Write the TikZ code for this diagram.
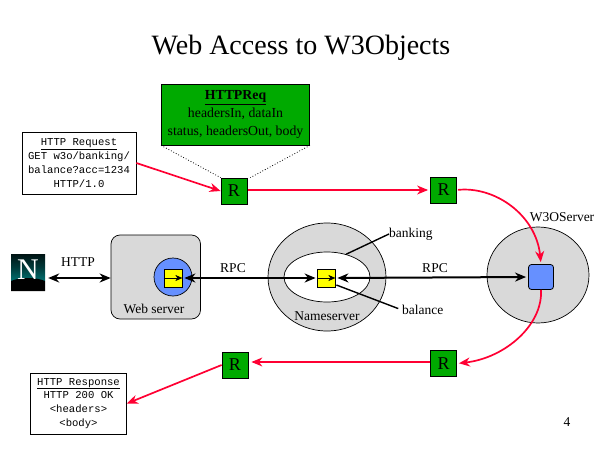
\documentclass[tikz,border=0pt]{standalone}
\usepackage{fontspec}
\setmainfont{Liberation Serif}
\setmonofont{Liberation Mono}
\usetikzlibrary{arrows.meta,calc,shapes.geometric}
\definecolor{rgreen}{HTML}{00AA00}
\definecolor{rred}{HTML}{FF0033}
\definecolor{rgrey}{HTML}{D9D9D9}
\definecolor{rblue}{HTML}{6690FF}
\definecolor{ryellow}{HTML}{FFFF00}
\tikzset{
  blacktip/.tip={Stealth[length=11pt,width=9pt,inset=3.5pt]},
  rbox/.style={draw=black,line width=0.8pt,fill=rgreen,minimum size=26pt,inner sep=0pt,font=\fontsize{18}{18}\selectfont},
  msgbox/.style={draw=black,line width=0.8pt,fill=white,align=center,inner sep=0pt,font=\ttfamily\fontsize{10.6}{13.9}\selectfont},
  lab/.style={inner sep=0pt,font=\fontsize{13.5}{14}\selectfont},
  yellowbox/.style={draw=black,line width=0.8pt,fill=ryellow,minimum size=18pt,inner sep=0pt},
  grey/.style={draw=black,line width=0.7pt,fill=rgrey},
  rpc/.style={line width=2pt,blacktip-blacktip,black},
  redline/.style={line width=1.2pt,-blacktip,rred},
  redthick/.style={line width=1.7pt,-blacktip,rred},
  leader/.style={line width=1.4pt,black},
  innerarrow/.style={line width=0.6pt,-{Stealth[length=7pt,width=6pt,inset=2pt]},black},
  dots/.style={line width=0.8pt,dotted,black}
}
\begin{document}
\begin{tikzpicture}[x=1pt,y=-1pt]
\useasboundingbox (0,0) rectangle (600,450);
\fill[white] (0,0) rectangle (600,450);
\node[inner sep=0pt,font=\fontsize{28}{32}\selectfont] (title) at (301,48) {Web Access to W3Objects};
\node[draw=black,line width=0.8pt,fill=rgreen,minimum width=148pt,minimum height=61pt,align=center,inner sep=0pt,font=\fontsize{13.8}{18}\selectfont] (req) at (235.5,114.5) {\textbf{\underline{HTTPReq}}\\headersIn, dataIn\\status, headersOut, body};
\node[msgbox,minimum width=114pt,minimum height=62pt] (request) at (79,163) {\underline{HTTP Request}\\GET w3o/banking/\\balance?acc=1234\\HTTP/1.0};
\node[rbox] (r1) at (234,191) {R};
\node[rbox] (r2) at (443.5,190) {R};
\node[rbox] (r3) at (443.5,363.5) {R};
\node[rbox] (r4) at (235,365) {R};
\node[msgbox,minimum width=96pt,minimum height=61pt] (response) at (78.5,403.5) {\underline{HTTP Response}\\HTTP 200 OK\\<headers>\\<body>};
% logo
\node[minimum width=34pt,minimum height=37pt,inner sep=0pt] (logo) at (28,272.5) {};
\shade[top color=black!85!teal,bottom color=teal!85!black,middle color=black!55!teal] (11,254) rectangle (45,280);
\fill[black] (11,281) .. controls (20,277) and (36,277) .. (45,281) -- (45,291) -- (11,291) -- cycle;
\node[inner sep=0pt,text=white,font=\fontsize{30}{30}\selectfont] (logoN) at (28,270) {N};
% web server
\node[grey,rounded corners=9pt,minimum width=89.5pt,minimum height=84pt,inner sep=0pt] (web) at (155.75,277) {};
\node[draw=black,line width=0.7pt,fill=rblue,circle,minimum size=38pt,inner sep=0pt] (stub) at (173,277) {};
\node[yellowbox] (y1) at (173,278) {};
\node[lab] (weblabel) at (154,309) {Web server};
% nameserver
\node[grey,ellipse,minimum width=118pt,minimum height=108pt,inner sep=0pt] (ns) at (327,277) {};
\node[draw=black,line width=0.7pt,fill=white,ellipse,minimum width=86pt,minimum height=50pt,inner sep=0pt] (nsin) at (327,277) {};
\node[yellowbox] (y2) at (326,278) {};
\node[lab] (nslabel) at (327,316) {Nameserver};
% w3o server
\node[grey,ellipse,minimum width=102pt,minimum height=96pt,inner sep=0pt] (w3o) at (538,275) {};
\node[draw=black,line width=0.8pt,fill=rblue,rounded corners=3pt,minimum size=25pt,inner sep=0pt] (obj) at (541,277) {};
\node[lab] (w3olabel) at (562,217) {W3OServer};
% labels
\node[lab] (http) at (78,262) {HTTP};
\node[lab] (rpc1) at (233,268) {RPC};
\node[lab] (rpc2) at (435,268) {RPC};
\node[lab,anchor=west] (banking) at (389,234) {banking};
\node[lab,anchor=west] (balance) at (402,310) {balance};
\node[lab] (page) at (567,422) {4};
% connectors
\draw[rpc] ([xshift=3pt]logo.east|-y1) -- (web.west|-y1);
\draw[rpc,shorten <=2pt,shorten >=1pt] (y1.east) -- (y2.west);
\draw[rpc,shorten <=2pt,shorten >=2pt] (y2.east) -- (obj.west);
\draw[innerarrow] (y1.west) -- (y1.east);
\draw[innerarrow] (y2.west) -- (y2.east);
\draw[leader] (nsin.50) -- (banking.west);
\draw[leader,shorten >=4pt] ([xshift=1pt,yshift=-7pt]y2.east) -- (balance.west);
\draw[dots] (req.south west) -- (r1.north west);
\draw[dots] (req.south east) -- ([xshift=3pt]r1.north east);
\draw[redthick] (request.east) -- (r1.west);
\draw[redline,shorten <=1pt,shorten >=2pt] ([yshift=1pt]r1.east) -- (r2.west);
\draw[redthick,shorten <=1pt,shorten >=2pt] (r2.east) .. controls (495,186) and (536,215) .. (obj.north);
\draw[redthick,shorten >=2pt] (obj.south) .. controls (543,325) and (505,358) .. (r3.east);
\draw[redline,shorten >=3pt] ([yshift=1.5pt]r3.west) -- ([yshift=1.5pt]r3.west-|r4.east);
\draw[redthick] (r4.west) -- (response.east);
\end{tikzpicture}
\end{document}
